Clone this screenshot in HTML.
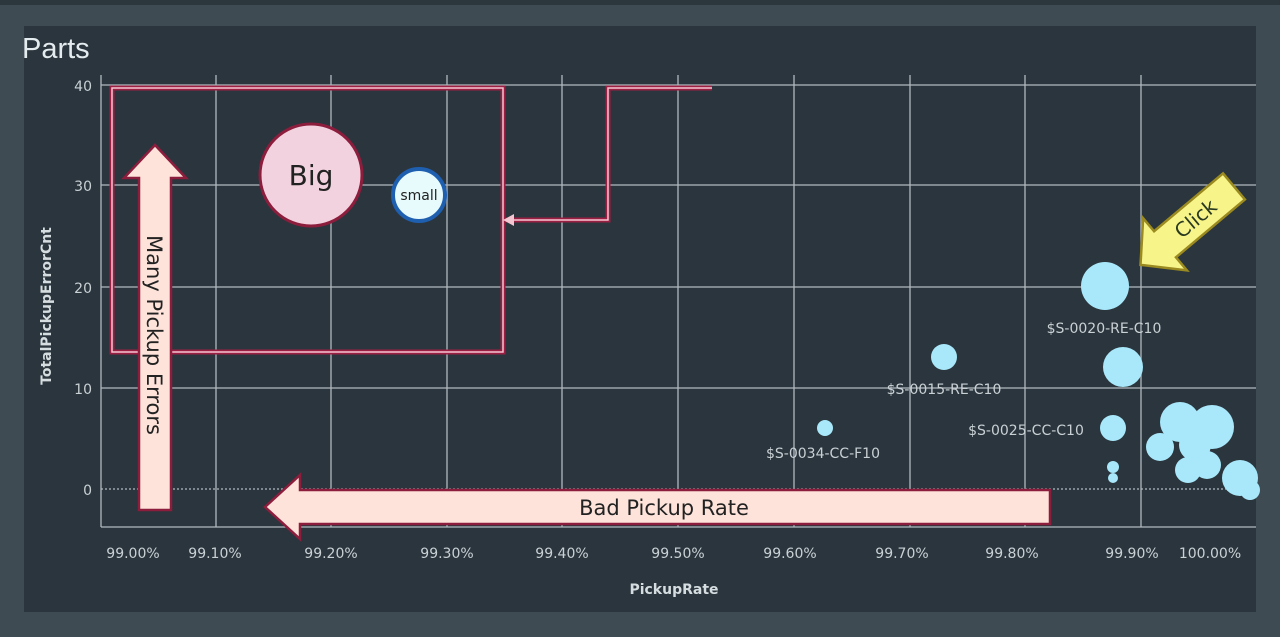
<!DOCTYPE html>
<html><head><style>
body{margin:0;width:1280px;height:637px;background:#3e4b53;overflow:hidden;font-family:"DejaVu Sans","Liberation Sans",sans-serif}
</style></head><body>
<svg width="1280" height="637" xmlns="http://www.w3.org/2000/svg" style="position:absolute;left:0;top:0">
<rect x="0" y="0" width="1280" height="5" fill="#2c363d"/>
<rect x="24" y="26" width="1232" height="586" fill="#2b353d"/>
<text x="22" y="58" font-size="29" fill="#e4ecef" font-family="Liberation Sans,sans-serif">Parts</text>
<g stroke="#c9d1d5" stroke-width="1.3" opacity="0.85">
<line x1="216" y1="75" x2="216" y2="527"/><line x1="331" y1="75" x2="331" y2="527"/><line x1="447" y1="75" x2="447" y2="527"/><line x1="562" y1="75" x2="562" y2="527"/><line x1="678" y1="75" x2="678" y2="527"/><line x1="794" y1="75" x2="794" y2="527"/><line x1="910" y1="75" x2="910" y2="527"/><line x1="1025" y1="75" x2="1025" y2="527"/><line x1="1141" y1="75" x2="1141" y2="527"/>
<line x1="101" y1="85" x2="1256" y2="85"/><line x1="101" y1="185" x2="1256" y2="185"/><line x1="101" y1="287" x2="1256" y2="287"/><line x1="101" y1="388" x2="1256" y2="388"/>
<line x1="101" y1="489" x2="1256" y2="489" stroke-dasharray="2,2"/>
<line x1="101" y1="75" x2="101" y2="527"/><line x1="101" y1="527" x2="1256" y2="527"/>
</g>
<g fill="#c9d1d5" font-size="14" text-anchor="end">
<text x="92" y="91">40</text><text x="92" y="191">30</text><text x="92" y="293">20</text><text x="92" y="394">10</text><text x="92" y="495">0</text>
</g>
<g fill="#c9d1d5" font-size="14" text-anchor="middle">
<text x="133" y="558">99.00%</text><text x="215" y="558">99.10%</text><text x="331" y="558">99.20%</text><text x="447" y="558">99.30%</text><text x="562" y="558">99.40%</text><text x="678" y="558">99.50%</text><text x="790" y="558">99.60%</text><text x="902" y="558">99.70%</text><text x="1012" y="558">99.80%</text><text x="1132" y="558">99.90%</text><text x="1210" y="558">100.00%</text>
</g>
<text x="674" y="594" fill="#d6dde0" font-size="14" font-weight="bold" text-anchor="middle">PickupRate</text>
<text transform="translate(51,306) rotate(-90)" fill="#d6dde0" font-size="14" font-weight="bold" text-anchor="middle">TotalPickupErrorCnt</text>
<g fill="#a8e8fa">
<circle cx="1105" cy="286" r="24"/><circle cx="1123" cy="367" r="20"/><circle cx="944" cy="357" r="13"/><circle cx="825" cy="428" r="8"/><circle cx="1113" cy="428" r="13"/>
<circle cx="1113" cy="467" r="6"/><circle cx="1113" cy="478" r="5"/>
<circle cx="1180" cy="422" r="20"/><circle cx="1212" cy="427" r="22"/><circle cx="1160" cy="447" r="14"/><circle cx="1188" cy="470" r="13"/><circle cx="1207" cy="465" r="14"/><circle cx="1195" cy="445" r="16"/><circle cx="1240" cy="478" r="18"/><circle cx="1250" cy="490" r="10"/>
</g>
<g fill="#c9d1d5" font-size="14" text-anchor="middle">
<text x="1104" y="333">$S-0020-RE-C10</text><text x="944" y="394">$S-0015-RE-C10</text><text x="1026" y="435">$S-0025-CC-C10</text><text x="823" y="458">$S-0034-CC-F10</text>
</g>
<g fill="none">
<rect x="112" y="88" width="391" height="264" stroke="#9b1f42" stroke-width="5"/>
<rect x="112" y="88" width="391" height="264" stroke="#f4c6d2" stroke-width="1.5"/>
<polyline points="712,88 608,88 608,220 506,220" stroke="#9b1f42" stroke-width="5"/>
<polyline points="712,88 608,88 608,220 506,220" stroke="#f4c6d2" stroke-width="1.5"/>
</g>
<polygon points="503,220 514,214 514,226" fill="#f4c6d2"/>
<circle cx="311" cy="175" r="51" fill="#f3d2df" stroke="#8d1d3d" stroke-width="3"/>
<text x="311" y="185" font-size="28" text-anchor="middle" fill="#222">Big</text>
<circle cx="419" cy="195" r="26" fill="#e7fbfd" stroke="#1f5fb0" stroke-width="4"/>
<text x="419" y="200" font-size="14" text-anchor="middle" fill="#222">small</text>
<polygon points="139,510 139,178 124,178 155,145 186,178 171,178 171,510" fill="#fde3da" stroke="#8d1d3d" stroke-width="2.5"/>
<text transform="translate(147,335) rotate(90)" font-size="21" text-anchor="middle" fill="#222">Many Pickup Errors</text>
<polygon points="1050,490 300,490 300,475 265,507 300,539 300,524 1050,524" fill="#fde3da" stroke="#8d1d3d" stroke-width="2.5"/>
<text x="664" y="515" font-size="21" text-anchor="middle" fill="#222">Bad Pickup Rate</text>
<g transform="translate(1188,225) rotate(-40)">
<polygon points="-62,0 -30,-34 -30,-17 60,-17 60,17 -30,17 -30,34" fill="#f7f48a" stroke="#9a8a20" stroke-width="2.5"/>
<text x="10" y="7" font-size="20" text-anchor="middle" fill="#2a3a20">Click</text>
</g>
</svg>
</body></html>
